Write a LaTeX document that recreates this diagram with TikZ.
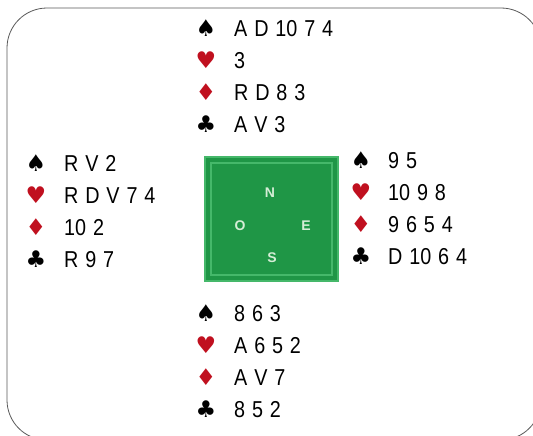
\documentclass[tikz,border=0pt]{standalone}
\usepackage{fontspec}
\setmainfont[FakeStretch=0.86,WordSpace=1.25]{Liberation Sans}
\newfontfamily\suitfont{DejaVu Sans}
\newfontfamily\boxfont{Liberation Sans}
\definecolor{suitred}{HTML}{C0101F}
\definecolor{tablegreen}{HTML}{1F9646}
\definecolor{tablelight}{HTML}{45B86A}
\definecolor{framegray}{HTML}{5A5A5A}
\definecolor{letterc}{HTML}{D5EDD6}
\tikzset{
  cards/.style={anchor=west,inner sep=0pt,text height=16.5pt,text depth=0pt,
    font=\fontsize{23}{23}\selectfont,text=black},
  suitsym/.style={anchor=center,inner sep=0pt,font=\suitfont\fontsize{23}{23}\selectfont},
  blacksuit/.style={suitsym,text=black},
  redsuit/.style={suitsym,text=suitred},
  seat/.style={inner sep=0pt,text=letterc,font=\boxfont\bfseries\fontsize{14}{14}\selectfont}
}
\newcommand\myhand[8]{%
  \node[blacksuit] (#1sp) at (#2,#4) {♠};
  \node[cards] (#1spc) at (#3,#4) {#5};
  \node[redsuit] (#1he) at (#2,{#4+32}) {♥};
  \node[cards] (#1hec) at (#3,{#4+32}) {#6};
  \node[redsuit] (#1di) at (#2,{#4+64}) {♦};
  \node[cards] (#1dic) at (#3,{#4+64}) {#7};
  \node[blacksuit] (#1cl) at (#2,{#4+96}) {♣};
  \node[cards] (#1clc) at (#3,{#4+96}) {#8};
}
\begin{document}
\begin{tikzpicture}[x=1pt,y=-1pt]
\useasboundingbox (0,0) rectangle (533,436);
\begin{scope}
\clip (0,0) rectangle (533,436);
\fill[white] (0,0) rectangle (533,436);
\draw[framegray,line width=0.8pt,rounded corners=40pt] (7,8) rectangle (541,440);
\end{scope}
% table
\fill[tablelight] (204,156) rectangle (339,282);
\fill[tablegreen] (206,158) rectangle (337,280);
\draw[tablelight,line width=1.4pt] (211,163) rectangle (332,275);
\fill[tablegreen] (212.5,164.5) rectangle (330.5,273.5);
\node[seat] (sN) at (270,193) {N};
\node[seat] (sO) at (240,226) {O};
\node[seat] (sE) at (306,226) {E};
\node[seat] (sS) at (272,258) {S};
% hands
\myhand{n}{206}{234}{28}{A D 10 7 4}{3}{R D 8 3}{A V 3}
\myhand{w}{36}{64}{163}{R V 2}{R D V 7 4}{10 2}{R 9 7}
\myhand{e}{361}{388}{160}{9 5}{10 9 8}{9 6 5 4}{D 10 6 4}
\myhand{s}{206}{234}{313}{8 6 3}{A 6 5 2}{A V 7}{8 5 2}
\end{tikzpicture}
\end{document}
